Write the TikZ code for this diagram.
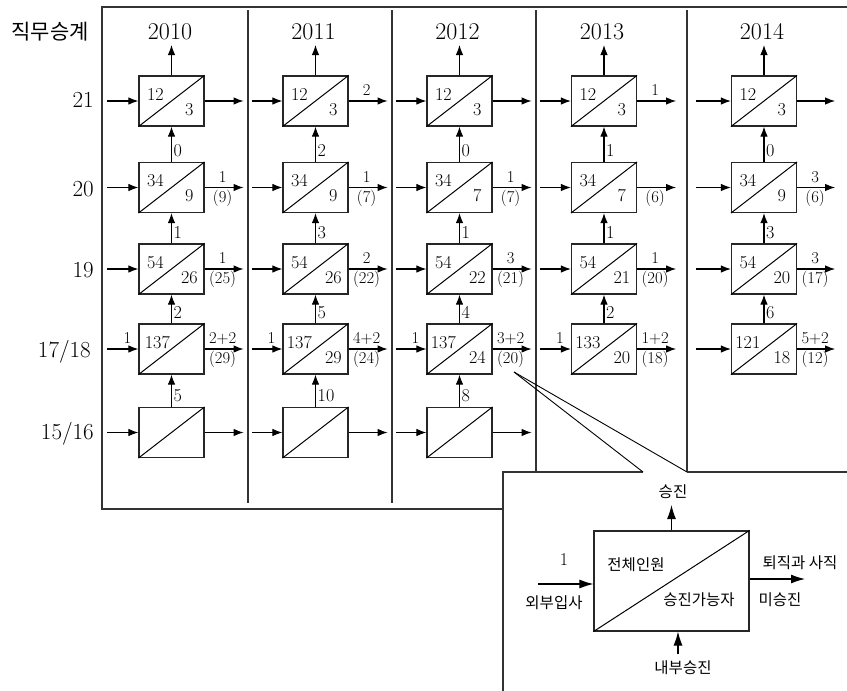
\documentclass[tikz,border=0pt]{standalone}
\usepackage{fontspec}
\newfontfamily\kr{Noto Sans CJK KR}
\usetikzlibrary{arrows.meta}
\newcommand\mkbox[3]{\node[cellbox] (#1) at (#2,#3) {};
  \draw[diag] (#1.south west) -- (#1.north east);}
\newcommand\mkcell[5]{\mkbox{#1}{#2}{#3}
  \node[bnum] (#1u) at ([shift={(17,19)}]#1.north west) {#4};
  \node[bnum] (#1l) at ([shift={(51,34)}]#1.north west) {#5};}
\newcommand\inarr[2]{\coordinate (#1i) at ([xshift=-#2pt]#1.west);
  \draw[arr] (#1i) -- (#1.west);}
\newcommand\outarr[2]{\coordinate (#1o) at ([xshift=#2pt]#1.east);
  \draw[arr] (#1.east) -- (#1o);}
\newcommand\otop[2]{\node[olab] (#1ot) at ([shift={(18,-10.5)}]#1.east) {#2};}
\newcommand\obot[2]{\node[olab] (#1ob) at ([shift={(18,10.5)}]#1.east) {#2};}
\newcommand\uplab[2]{\node[ulab] (#1up) at ([shift={(2,-11)}]#1.north) {#2};}
\newcommand\inlab[2]{\node[olab] (#1il) at ([shift={(-11,-11)}]#1.west) {#2};}
\begin{document}
\begin{tikzpicture}[x=1pt,y=-1pt,
  cellbox/.style={draw=black!85, line width=1.2pt, minimum width=65pt, minimum height=50pt, inner sep=0pt},
  diag/.style={line width=1pt},
  arr/.style={line width=1.1pt, -{Latex[length=10pt,width=7.5pt]}},
  bigarr/.style={line width=1.1pt, -{Latex[length=14pt,width=9pt]}},
  frame/.style={line width=1.3pt, draw=black!80},
  wedge/.style={line width=0.9pt},
  lm/.style={inner sep=0pt, font=\fontsize{17.28}{17.28}\selectfont, transform shape},
  bnum/.style={lm, scale=1.05},
  olab/.style={lm, scale=0.96},
  ulab/.style={lm, anchor=west, scale=1.05},
  yr/.style={lm, scale=1.39},
  rowlab/.style={lm, anchor=east, scale=1.33},
  krlab/.style={inner sep=0pt, font=\kr\fontsize{15.5}{16}\selectfont},
  innerbox/.style={draw=black!85, line width=1.2pt, minimum width=155pt, minimum height=100pt, inner sep=0pt}
]
\useasboundingbox (0,0) rectangle (847,691);

% frame
\draw[frame] (847,7) -- (102,7) -- (102,509) -- (503,509);
\draw[frame] (503,691) -- (503,472) -- (643,472);
\draw[frame] (687,472) -- (847,472);
\draw[frame] (248,10) -- (248,503);
\draw[frame] (392,10) -- (392,503);
\draw[frame] (536,10) -- (536,472);
\draw[frame] (687,10) -- (687,472);
\draw[wedge] (514,372) -- (643,472);
\draw[wedge] (514,372) -- (687,472);

% headers
\node[inner sep=0pt, font=\kr\fontsize{21}{21}\selectfont] (hdr) at (50,32) {직무승계};
\node[yr] (y0) at (170,32) {2010};
\node[yr] (y1) at (313.5,32) {2011};
\node[yr] (y2) at (457.5,32) {2012};
\node[yr] (y3) at (602,32) {2013};
\node[yr] (y4) at (762,32) {2014};
\node[rowlab] (r21) at (94,100) {21};
\node[rowlab] (r20) at (94,189) {20};
\node[rowlab] (r19) at (94,270) {19};
\node[rowlab] (r17) at (91,352) {17/18};
\node[rowlab] (r15) at (94,434) {15/16};

% ---------- 2010
\mkcell{a21}{171.5}{101}{12}{3}
\mkcell{a20}{171.5}{187.5}{34}{9}
\mkcell{a19}{171.5}{269}{54}{26}
\mkbox{a17}{171.5}{349}
\node[bnum] (a17u) at ([shift={(19,19)}]a17.north west) {137};
\mkbox{a15}{171.5}{432.5}
% ---------- 2011
\mkcell{b21}{315.5}{101}{12}{3}
\mkcell{b20}{315.5}{187.5}{34}{9}
\mkcell{b19}{315.5}{269}{54}{26}
\mkcell{b17}{315.5}{349}{137}{29}
\mkbox{b15}{315.5}{432.5}
% ---------- 2012
\mkcell{c21}{459.5}{101}{12}{3}
\mkcell{c20}{459.5}{187.5}{34}{7}
\mkcell{c19}{459.5}{269}{54}{22}
\mkcell{c17}{459.5}{349}{137}{24}
\mkbox{c15}{459.5}{432.5}
% ---------- 2013
\mkcell{d21}{604}{101}{12}{3}
\mkcell{d20}{604}{187.5}{34}{7}
\mkcell{d19}{604}{269}{54}{21}
\mkcell{d17}{604}{349}{133}{20}
% ---------- 2014
\mkcell{e21}{764}{101}{12}{3}
\mkcell{e20}{764}{187.5}{34}{9}
\mkcell{e19}{764}{269}{54}{20}
\mkcell{e17}{764}{349}{121}{18}

% top arrows
\coordinate (at) at (171.5,45); \draw[arr] (a21.north) -- (at);
\coordinate (bt) at (315.5,45); \draw[arr] (b21.north) -- (bt);
\coordinate (ct) at (459.5,45); \draw[arr] (c21.north) -- (ct);
\coordinate (dt) at (604,45); \draw[arr] (d21.north) -- (dt);
\coordinate (et) at (764,45); \draw[arr] (e21.north) -- (et);

% vertical promotions
\draw[arr] (a20.north) -- (a21.south); \uplab{a20}{0}
\draw[arr] (a19.north) -- (a20.south); \uplab{a19}{1}
\draw[arr] (a17.north) -- (a19.south); \uplab{a17}{2}
\draw[arr] (a15.north) -- (a17.south); \uplab{a15}{5}
\draw[arr] (b20.north) -- (b21.south); \uplab{b20}{2}
\draw[arr] (b19.north) -- (b20.south); \uplab{b19}{3}
\draw[arr] (b17.north) -- (b19.south); \uplab{b17}{5}
\draw[arr] (b15.north) -- (b17.south); \uplab{b15}{10}
\draw[arr] (c20.north) -- (c21.south); \uplab{c20}{0}
\draw[arr] (c19.north) -- (c20.south); \uplab{c19}{1}
\draw[arr] (c17.north) -- (c19.south); \uplab{c17}{4}
\draw[arr] (c15.north) -- (c17.south); \uplab{c15}{8}
\draw[arr] (d20.north) -- (d21.south); \uplab{d20}{1}
\draw[arr] (d19.north) -- (d20.south); \uplab{d19}{1}
\draw[arr] (d17.north) -- (d19.south); \uplab{d17}{2}
\draw[arr] (e20.north) -- (e21.south); \uplab{e20}{0}
\draw[arr] (e19.north) -- (e20.south); \uplab{e19}{3}
\draw[arr] (e17.north) -- (e19.south); \uplab{e17}{6}

% horizontal arrows
\inarr{a21}{31} \inarr{a20}{31} \inarr{a19}{31} \inarr{a17}{31} \inarr{a15}{31}
\outarr{a21}{39} \outarr{a20}{39} \outarr{a19}{39} \outarr{a17}{39} \outarr{a15}{39}
\inarr{b21}{30} \inarr{b20}{30} \inarr{b19}{30} \inarr{b17}{30} \inarr{b15}{30}
\outarr{b21}{39} \outarr{b20}{39} \outarr{b19}{39} \outarr{b17}{39} \outarr{b15}{39}
\inarr{c21}{30} \inarr{c20}{30} \inarr{c19}{30} \inarr{c17}{30} \inarr{c15}{30}
\outarr{c21}{39} \outarr{c20}{39} \outarr{c19}{39} \outarr{c17}{39} \outarr{c15}{39}
\inarr{d21}{31} \inarr{d20}{31} \inarr{d19}{31} \inarr{d17}{31}
\outarr{d21}{39} \outarr{d20}{39} \outarr{d19}{39} \outarr{d17}{39}
\inarr{e21}{35} \inarr{e20}{35} \inarr{e19}{35} \inarr{e17}{35}
\outarr{e21}{38} \outarr{e20}{38} \outarr{e19}{38} \outarr{e17}{38}

% input labels
\inlab{a17}{1} \inlab{b17}{1} \inlab{c17}{1} \inlab{d17}{1}

% output labels
\otop{a20}{1} \obot{a20}{(9)}
\otop{a19}{1} \obot{a19}{(25)}
\otop{a17}{2+2} \obot{a17}{(29)}
\otop{b21}{2}
\otop{b20}{1} \obot{b20}{(7)}
\otop{b19}{2} \obot{b19}{(22)}
\otop{b17}{4+2} \obot{b17}{(24)}
\otop{c20}{1} \obot{c20}{(7)}
\otop{c19}{3} \obot{c19}{(21)}
\otop{c17}{3+2} \obot{c17}{(20)}
\otop{d21}{1}
\obot{d20}{(6)}
\otop{d19}{1} \obot{d19}{(20)}
\otop{d17}{1+2} \obot{d17}{(18)}
\otop{e20}{3} \obot{e20}{(6)}
\otop{e19}{3} \obot{e19}{(17)}
\otop{e17}{5+2} \obot{e17}{(12)}

% ---------- legend inset
\node[innerbox] (ib) at (671.5,581) {};
\draw[diag] (ib.south west) -- (ib.north east);
\node[krlab] (ibu) at (636,565) {전체인원};
\node[krlab] (ibl) at (699,600) {승진가능자};
\coordinate (ibt) at (671.5,505);
\draw[bigarr] (ib.north) -- (ibt);
\node[krlab] (lup) at (673,492) {승진};
\coordinate (ibi) at (538,584);
\draw[bigarr] (ibi) -- (ibi -| ib.west);
\node[lm, scale=1.04] (lone) at (564,560) {1};
\node[krlab] (lin) at (554,603) {외부입사};
\coordinate (ibo) at (805,579);
\draw[bigarr] (ibo -| ib.east) -- (ibo);
\node[krlab] (lout) at (800,563) {퇴직과 사직};
\node[krlab] (lnot) at (780,600) {미승진};
\coordinate (ibb) at (678,654);
\draw[bigarr] (ibb) -- (ibb |- ib.south);
\node[krlab] (lbot) at (683,668) {내부승진};
\end{tikzpicture}
\end{document}
